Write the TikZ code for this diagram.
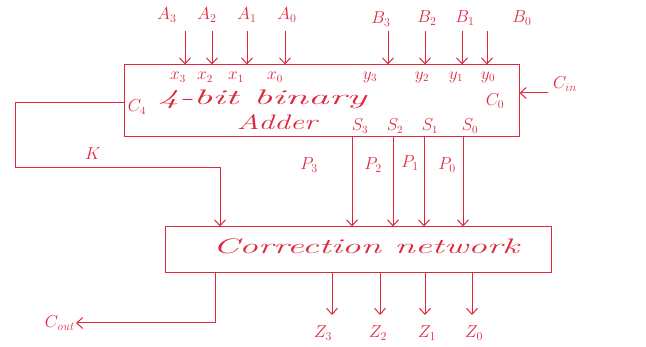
\documentclass[tikz,border=0pt]{standalone}
\usetikzlibrary{arrows.meta}
\definecolor{ink}{RGB}{222,40,62}
\begin{document}
\begin{tikzpicture}[x=1pt,y=-1pt,
  wire/.style={draw=ink, line width=1pt},
  arr/.style={wire, -{Straight Barb[length=6pt,width=11pt]}},
  box/.style={draw=ink, color=ink, line width=1pt, rectangle, inner sep=0pt},
  lbl/.style={text=ink, inner sep=1pt, font=\fontsize{17}{17}\selectfont},
  sml/.style={text=ink, inner sep=1pt, font=\fontsize{16}{16}\selectfont},
  big/.style={text=ink, inner sep=1pt, font=\itshape\fontsize{21}{21}\selectfont}]
\useasboundingbox (0,0) rectangle (646,347);

% boxes
\node[box, minimum width=395pt, minimum height=72pt] (adder) at (321.5,101) {};
\node[box, minimum width=386pt, minimum height=46pt] (corr) at (358,250) {};

% adder text
\node[big] (t4bit) at (262,99) {\scalebox{2.0}[1]{4-bit binary}};
\node[big] (tadd) at (277,122) {\scalebox{1.5}[1]{Adder}};
\node[lbl] (tc0) at (495,101) {$C_0$};
\node[sml] (tc4) at (137,107) {$C_4$};
\node[big] (tcorr) at (366,246) {\scalebox{1.78}[1]{Correction network}};

% internal x / y / s labels
\node[sml] (x3) at (178,77) {$x_3$};
\node[sml] (x2) at (205,77) {$x_2$};
\node[sml] (x1) at (236,77) {$x_1$};
\node[sml] (x0) at (275,77) {$x_0$};
\node[sml] (y3) at (370,77) {$y_3$};
\node[sml] (y2) at (422,77) {$y_2$};
\node[sml] (y1) at (456,77) {$y_1$};
\node[sml] (y0) at (488,77) {$y_0$};
\node[sml] (s3) at (360,126) {$S_3$};
\node[sml] (s2) at (395,126) {$S_2$};
\node[sml] (s1) at (430,126) {$S_1$};
\node[sml] (s0) at (470,126) {$S_0$};

% top inputs
\node[lbl] (la3) at (167,15) {$A_3$};
\node[lbl] (la2) at (207,15) {$A_2$};
\node[lbl] (la1) at (247,15) {$A_1$};
\node[lbl] (la0) at (287,15) {$A_0$};
\node[lbl] (lb3) at (381,19) {$B_3$};
\node[lbl] (lb2) at (427,18) {$B_2$};
\node[lbl] (lb1) at (465,18) {$B_1$};
\node[lbl] (lb0) at (522,18) {$B_0$};
\foreach \n/\x in {a3/185,a2/212,a1/247,a0/285,b3/388,b2/425,b1/462,b0/487}{
  \coordinate (\n) at (\x,31);
  \draw[arr] (\n) -- (\n |- adder.north);
}

% carry in
\coordinate (cin) at (548,93);
\node[lbl] (lcin) at (565,84) {$C_{in}$};
\draw[arr] (cin) -- (cin -| adder.east);

% carry loop K
\coordinate (k0) at (15,103);
\coordinate (k1) at (15,168);
\coordinate (k2) at (220,168);
\draw[arr] (k0 -| adder.west) -- (k0) -- (k1) -- (k2) -- (k2 |- corr.north);
\node[lbl] (lk) at (93,154) {$K$};

% S -> correction network
\foreach \n/\x in {p3/352,p2/393,p1/424,p0/463}{
  \coordinate (\n) at (\x,137);
  \draw[arr] (\n) -- (\n |- corr.north);
}
\node[lbl] (lp3) at (309,165) {$P_3$};
\node[lbl] (lp2) at (373,165) {$P_2$};
\node[lbl] (lp1) at (410,163) {$P_1$};
\node[lbl] (lp0) at (447,165) {$P_0$};

% outputs
\foreach \n/\x in {z3/332,z2/380,z1/425,z0/472}{
  \coordinate (\n) at (\x,315);
  \draw[arr] (\n |- corr.south) -- (\n);
}
\node[lbl] (lz3) at (323,333) {$Z_3$};
\node[lbl] (lz2) at (378,333) {$Z_2$};
\node[lbl] (lz1) at (427,333) {$Z_1$};
\node[lbl] (lz0) at (474,333) {$Z_0$};

% carry out
\coordinate (c0) at (215,323);
\coordinate (cout) at (76,323);
\draw[arr] (c0 |- corr.south) -- (c0) -- (cout);
\node[lbl, anchor=east] (lcout) at (cout) {$C_{\mathit{out}}$};
\end{tikzpicture}
\end{document}
